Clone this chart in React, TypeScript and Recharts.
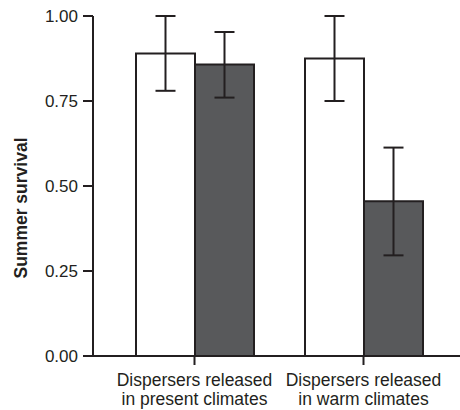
import React from 'react';
import { BarChart, Bar, XAxis, YAxis, ErrorBar } from 'recharts';

const categories = ['Dispersers released\nin present climates', 'Dispersers released\nin warm climates'];
const presentValues = [0.89, 0.875];
const presentErrors = [[0.11, 0.11], [0.125, 0.125]];
const warmValues = [0.857, 0.455];
const warmErrors = [[0.097, 0.096], [0.159, 0.158]];
const yTicks = [0, 0.25, 0.5, 0.75, 1];

const INK = '#231f20';
const FONT = '"Liberation Sans", Arial, Helvetica, sans-serif';

const data = categories.map((name, i) => ({
  name,
  present: presentValues[i],
  presentErr: presentErrors[i],
  warm: warmValues[i],
  warmErr: warmErrors[i],
}));

const CategoryTick = ({ x, y, payload }: any) => {
  const lines = String(payload.value).split('\n');
  return (
    <text x={x} y={y} textAnchor="middle" fontFamily={FONT} fontSize={17.5} fill={INK}>
      {lines.map((line, i) => (
        <tspan key={i} x={x} dy={i === 0 ? 19 : 18.5}>{line}</tspan>
      ))}
    </text>
  );
};

const YLabel = () => (
  <text
    x={0}
    y={0}
    transform="translate(27, 208) rotate(-90)"
    textAnchor="middle"
    fontFamily={FONT}
    fontSize={17.5}
    fontWeight="bold"
    fill={INK}
  >
    Summer survival
  </text>
);

export default function App() {
  return (
    <div style={{ position: 'absolute', left: 0, top: 0, width: 460, height: 410, background: '#fff' }}>
      <BarChart
        width={460}
        height={410}
        data={data}
        margin={{ top: 16, right: 0, bottom: 0, left: 0 }}
        barGap={0}
        barSize={59}
      >
        <XAxis
          dataKey="name"
          height={54}
          padding={{ left: 17, right: 12 }}
          axisLine={{ stroke: INK, strokeWidth: 2 }}
          tickLine={{ stroke: INK, strokeWidth: 2 }}
          tickSize={9}
          tick={<CategoryTick />}
          interval={0}
        />
        <YAxis
          width={93}
          domain={[0, 1]}
          ticks={yTicks}
          tickFormatter={(v: number) => v.toFixed(2)}
          axisLine={{ stroke: INK, strokeWidth: 2 }}
          tickLine={{ stroke: INK, strokeWidth: 2 }}
          tickSize={10}
          tickMargin={5}
          tick={{ fill: INK, fontSize: 17, fontFamily: FONT }}
          label={<YLabel />}
        />
        <Bar dataKey="present" fill="#ffffff" stroke={INK} strokeWidth={2} isAnimationActive={false}>
          <ErrorBar dataKey="presentErr" width={10} stroke={INK} strokeWidth={2} direction="y" />
        </Bar>
        <Bar dataKey="warm" fill="#58595b" stroke={INK} strokeWidth={2} isAnimationActive={false}>
          <ErrorBar dataKey="warmErr" width={10} stroke={INK} strokeWidth={2} direction="y" />
        </Bar>
      </BarChart>
    </div>
  );
}
